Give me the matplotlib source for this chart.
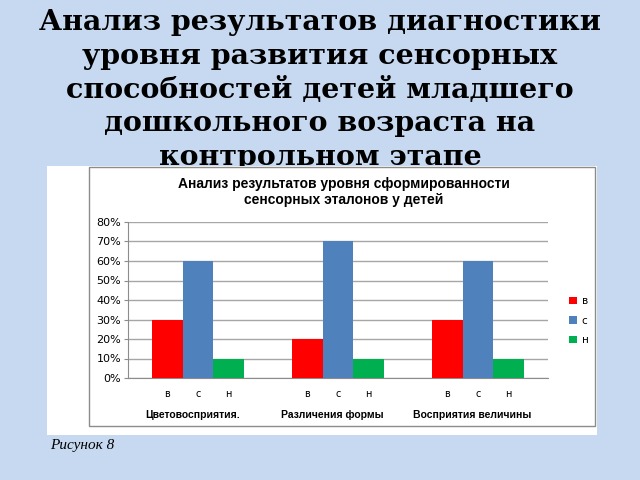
import matplotlib.pyplot as plt
from matplotlib.patches import Rectangle
from matplotlib.transforms import blended_transform_factory

# данные диаграммы
categories = ['Цветовосприятия.', 'Различения формы', 'Восприятия величины']
levels = ['в', 'с', 'н']
level_v = [0.30, 0.20, 0.30]
level_s = [0.60, 0.70, 0.60]
level_n = [0.10, 0.10, 0.10]
yticks = [0.0, 0.1, 0.2, 0.3, 0.4, 0.5, 0.6, 0.7, 0.8]
ytick_labels = ['0%', '10%', '20%', '30%', '40%', '50%', '60%', '70%', '80%']

main_title = ('Анализ результатов диагностики\nуровня развития сенсорных\n'
              'способностей детей младшего\nдошкольного возраста на\nконтрольном этапе')
chart_title = 'Анализ результатов уровня сформированности\nсенсорных эталонов у детей'

colors = ['#ff0000', '#4f81bd', '#00b050']
series = [level_v, level_s, level_n]

fig = plt.figure(figsize=(6.4, 4.8), dpi=100)
fig.patch.set_facecolor('#c6d9f1')

# заголовок слайда (нижняя строка частично закрыта белой рамкой)
fig.text(0.5, 0.982, main_title, ha='center', va='top', fontsize=20.5,
         fontweight='bold', family='DejaVu Serif', linespacing=1.33, zorder=1)

# белая подложка и рамка диаграммы
fig.patches.append(Rectangle((47 / 640, 1 - 435 / 480), 550 / 640, 269 / 480,
                             transform=fig.transFigure, facecolor='white',
                             edgecolor='none', zorder=5))
fig.patches.append(Rectangle((89 / 640, 1 - 426 / 480), 506 / 640, 259 / 480,
                             transform=fig.transFigure, facecolor='none',
                             edgecolor='#8c8c8c', lw=1, zorder=6))

ax = fig.add_axes([128 / 640, 1 - 378 / 480, 420 / 640, 156 / 480])
ax.set_zorder(10)
ax.patch.set_alpha(0)

w = 0.22
xpos = []
xlabels = []
for i, (vals, c, lev) in enumerate(zip(series, colors, levels)):
    xs = [k + (i - 1) * w for k in range(len(categories))]
    ax.bar(xs, vals, width=w, color=c, label=lev, zorder=3)
for k in range(len(categories)):
    for i, lev in enumerate(levels):
        xpos.append(k + (i - 1) * w)
        xlabels.append(lev)

ax.set_xlim(-0.5, len(categories) - 0.5)
ax.set_ylim(0, 0.8)
ax.set_yticks(yticks)
ax.set_yticklabels(ytick_labels, fontsize=8)
ax.set_xticks(xpos)
ax.set_xticklabels(xlabels, fontsize=7)
ax.tick_params(axis='x', length=0, pad=8)
ax.tick_params(axis='y', length=3, color='#8c8c8c', pad=2)
ax.yaxis.grid(True, color='#a6a6a6', lw=1, zorder=0)
for s in ['top', 'right']:
    ax.spines[s].set_visible(False)
ax.spines['left'].set_color('#8c8c8c')
ax.spines['bottom'].set_color('#8c8c8c')

trans = blended_transform_factory(ax.transData, ax.transAxes)
for k, cat in enumerate(categories):
    ax.text(k - 0.04, -0.235, cat, transform=trans, ha='center', va='center',
            fontsize=7.5, fontweight='bold', family='Liberation Sans')

fig.text(344 / 640, 1 - 192 / 480, chart_title, ha='center', va='center',
         fontsize=10, fontweight='bold', family='Liberation Sans',
         linespacing=1.25, zorder=11)

leg = fig.legend(loc='upper left', bbox_to_anchor=(560 / 640, 1 - 287 / 480),
                 frameon=False, fontsize=7.5, handlelength=0.7, handleheight=0.7,
                 handletextpad=0.5, labelspacing=0.9)
leg.set_zorder(11)

fig.text(50 / 640, 1 - 445 / 480, 'Рисунок 8', ha='left', va='center',
         fontsize=11, style='italic', family='Liberation Serif', zorder=11)

fig.savefig('out.png', dpi=100, facecolor=fig.get_facecolor())
